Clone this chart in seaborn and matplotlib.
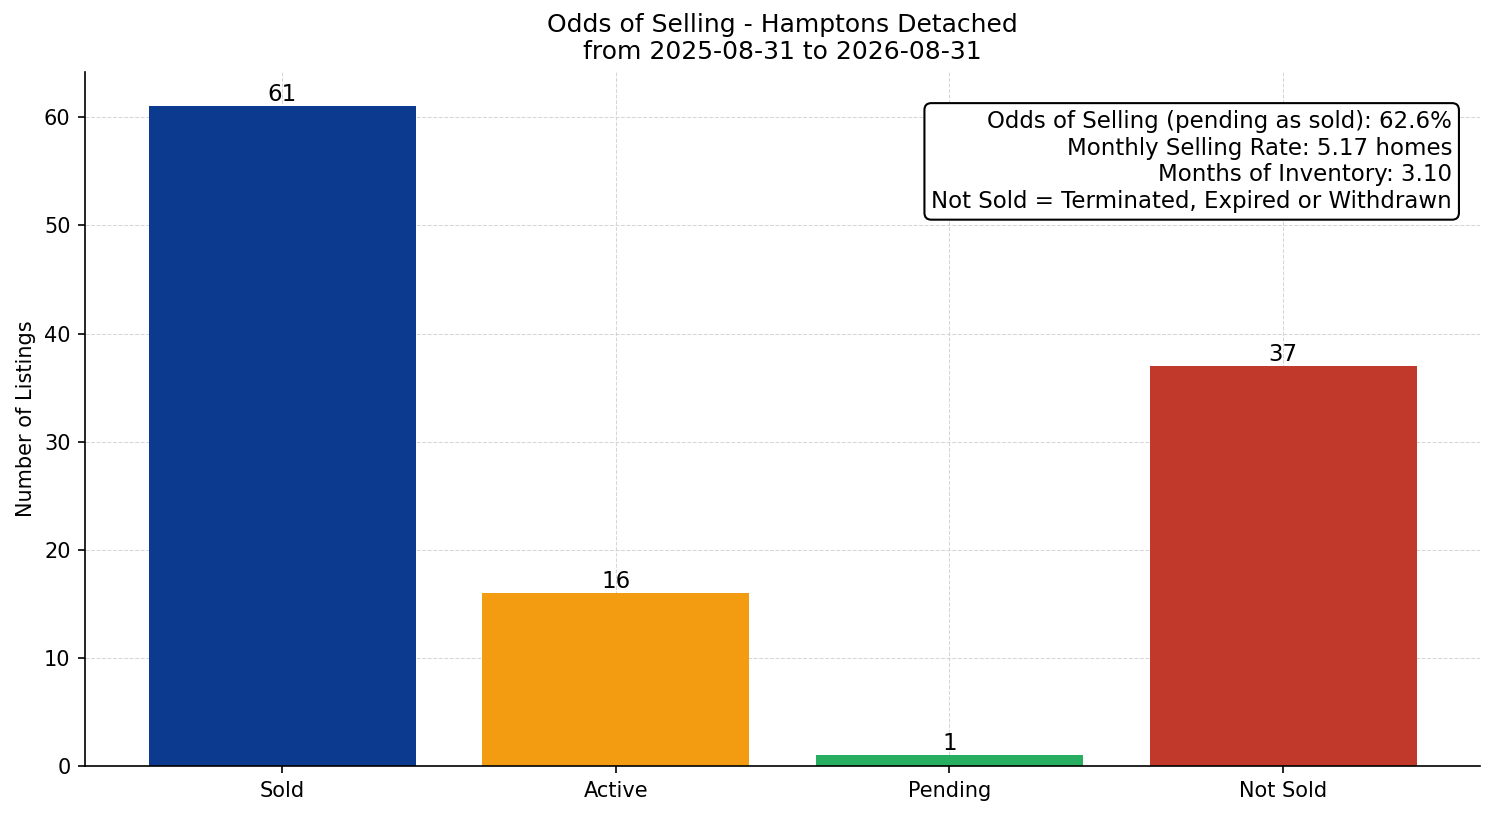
import matplotlib
matplotlib.use("Agg")
import matplotlib.pyplot as plt
import seaborn as sns
import pandas as pd

# data
categories = ["Sold", "Active", "Pending", "Not Sold"]
counts = [61, 16, 1, 37]
colors = ["#0b3a8e", "#f39c12", "#27ae60", "#c0392b"]
title_lines = ["Odds of Selling - Hamptons Detached", "from 2025-08-31 to 2026-08-31"]
info_lines = [
    "Odds of Selling (pending as sold): 62.6%",
    "Monthly Selling Rate: 5.17 homes",
    "Months of Inventory: 3.10",
    "Not Sold = Terminated, Expired or Withdrawn",
]

df = pd.DataFrame({"status": categories, "count": counts})

plt.rcParams["font.family"] = ["DejaVu Sans"]

fig, ax = plt.subplots(figsize=(9.96, 5.44), dpi=150)
sns.barplot(data=df, x="status", y="count", hue="status", palette=colors,
            order=categories, hue_order=categories, legend=False,
            saturation=1, width=0.8, ax=ax)

for c in ax.containers:
    ax.bar_label(c, fontsize=11)

# matplotlib-style x margins instead of seaborn's tight categorical limits
ax.set_xlim(-0.59, 3.59)
ax.set_ylim(0, 64.2)

ax.set_title("\n".join(title_lines), fontsize=12)
ax.set_xlabel("")
ax.set_ylabel("Number of Listings", fontsize=10)
ax.grid(True, linestyle="--", linewidth=0.5, color="#cccccc", alpha=0.8)
ax.set_axisbelow(True)
sns.despine(ax=ax)

ax.text(0.98, 0.945, "\n".join(info_lines), transform=ax.transAxes,
        ha="right", va="top", fontsize=11,
        bbox=dict(boxstyle="round,pad=0.3", facecolor="white", edgecolor="black"))

fig.subplots_adjust(left=0.057, right=0.9906, top=0.912, bottom=0.061)
plt.savefig("out.png", dpi=150)
